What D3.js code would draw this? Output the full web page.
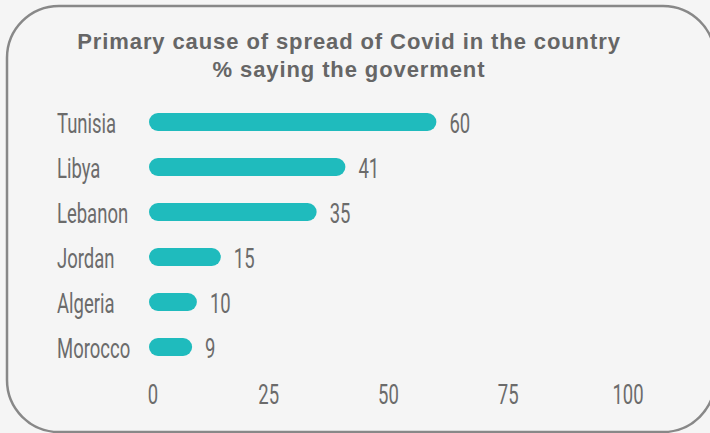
<!DOCTYPE html>
<html>
<head>
<meta charset="utf-8">
<script src="https://cdn.jsdelivr.net/npm/d3@7"></script>
<style>
  html, body { margin: 0; padding: 0; background: #f5f5f5; }
  svg { display: block; }
</style>
</head>
<body>
<svg id="chart" width="710" height="433"></svg>
<script>
// Share of respondents naming the government as primary cause of Covid spread
const countries = ["Tunisia", "Libya", "Lebanon", "Jordan", "Algeria", "Morocco"];
const values = [60, 41, 35, 15, 10, 9];
const tickValues = [0, 25, 50, 75, 100];
const titleLines = ["Primary cause of spread of Covid in the country", "% saying the goverment"];

const W = 710, H = 433;
const svg = d3.select("#chart");
const textColor = "#6b6b6b";
const barColor = "#1fbbbd";
const squeeze = 0.66; // horizontal compression for the condensed label face

// Card background and rounded frame
svg.append("rect").attr("width", W).attr("height", H).attr("fill", "#f5f5f5");
svg.append("rect")
  .attr("x", 7).attr("y", 6)
  .attr("width", 708).attr("height", 426)
  .attr("rx", 52).attr("ry", 52)
  .attr("fill", "#f5f5f5")
  .attr("stroke", "#888888")
  .attr("stroke-width", 2.5);

// Title
svg.append("g").selectAll("text")
  .data(titleLines)
  .join("text")
  .attr("x", 349)
  .attr("y", (d, i) => 49 + i * 28)
  .attr("text-anchor", "middle")
  .attr("font-family", "'Liberation Sans', Arial, sans-serif")
  .attr("font-weight", "bold")
  .attr("font-size", 22)
  .attr("letter-spacing", 0.9)
  .attr("fill", "#666666")
  .text(d => d);

// Scales
const x = d3.scaleLinear().domain([0, 100]).range([149, 628]);
const y = d3.scaleBand().domain(countries).range([99.5, 369.5]).paddingInner(0.6).paddingOuter(0.3);
const barH = 18;
const rowC = c => y(c) + y.bandwidth() / 2;

// Condensed text helper: compress horizontally around an anchor point
function condensed(sel, xf, yf, anchor) {
  return sel
    .attr("transform", (d, i) => `translate(${xf(d, i)},${yf(d, i)}) scale(${squeeze},1)`)
    .attr("text-anchor", anchor)
    .attr("font-family", "Roboto, 'Noto Sans', sans-serif")
    .attr("font-weight", 400)
    .attr("font-size", 28)
    .attr("fill", textColor);
}

const rows = countries.map((c, i) => ({ country: c, value: values[i] }));

// Category labels
condensed(
  svg.append("g").selectAll("text").data(rows).join("text"),
  () => 57, d => rowC(d.country) + 10.5, "start"
).text(d => d.country);

// Bars
svg.append("g").selectAll("rect")
  .data(rows)
  .join("rect")
  .attr("x", x(0))
  .attr("y", d => rowC(d.country) - barH / 2)
  .attr("width", d => x(d.value) - x(0))
  .attr("height", barH)
  .attr("rx", barH / 2)
  .attr("fill", barColor);

// Value labels
condensed(
  svg.append("g").selectAll("text").data(rows).join("text"),
  d => x(d.value) + 13, d => rowC(d.country) + 10.5, "start"
).text(d => d.value);

// Bottom axis labels
const axis = d3.axisBottom(x).tickValues(tickValues).tickSize(0).tickPadding(0);
const axisG = svg.append("g").attr("transform", "translate(0,404)").call(axis);
axisG.select(".domain").remove();
axisG.selectAll(".tick")
  .attr("transform", d => `translate(${x(d) + (d === 0 ? 4 : 0)},0)`);
axisG.selectAll(".tick text")
  .attr("y", 0).attr("dy", 0)
  .attr("transform", `scale(${squeeze},1)`)
  .attr("font-family", "Roboto, 'Noto Sans', sans-serif")
  .attr("font-weight", 400)
  .attr("font-size", 28)
  .attr("fill", textColor);
</script>
</body>
</html>
